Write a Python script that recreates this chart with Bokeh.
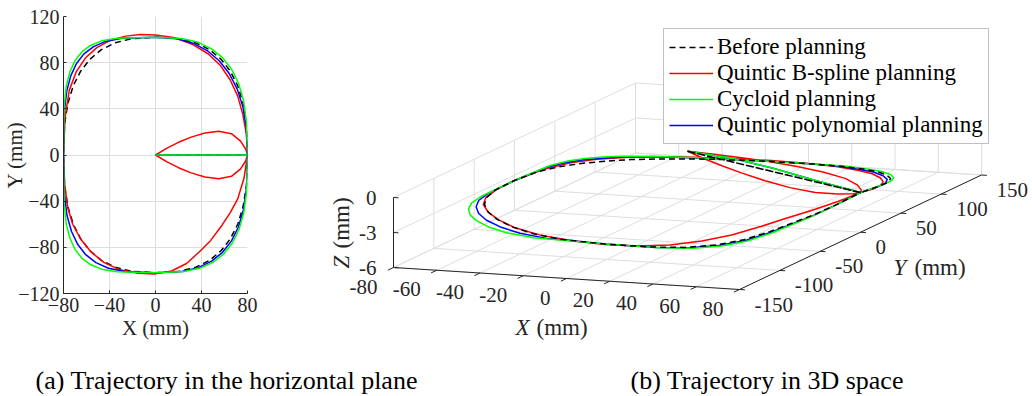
import numpy as np
from bokeh.plotting import figure
from bokeh.models import Range1d, FixedTicker, Legend, LegendItem
from bokeh.layouts import row, column
from bokeh.embed import file_html
from bokeh.resources import INLINE
from bokeh.core.properties import value

FONT = "Liberation Serif"
AX = "#262626"
GRID = "#dedede"

# ---------------- data ----------------
SERIES = ["Before planning", "Quintic B-spline planning", "Cycloid planning",
          "Quintic polynomial planning"]
COLORS = ["#000000", "#ff0000", "#00ff00", "#0000ff"]
CAPTIONS = ["(a) Trajectory in the horizontal plane", "(b) Trajectory in 3D space"]

X_TICKS_2D = [-80, -40, 0, 40, 80]
Y_TICKS_2D = [-120, -80, -40, 0, 40, 80, 120]
X_TICKS_3D = [-80, -60, -40, -20, 0, 20, 40, 60, 80]
Y_TICKS_3D = [-150, -100, -50, 0, 50, 100, 150]
Z_TICKS_3D = [-6, -3, 0]

# straight move from the origin to (80, 0)
LINE_X = [0, 20, 40, 60, 80]
LINE_Y = [0, 0, 0, 0, 0]
LINE_Z = [0, -0.65, -1.3, -1.95, -2.6]
# the planned straight moves descend along a smooth profile
LINE_Z_PLANNED = [0, -0.35, -1.0, -1.85, -2.6]

# B-spline teardrop: out (upper lobe) and back (lower lobe)
BSPLINE_OUT_X = [0, 10, 20, 31, 43, 55, 66, 74, 78.5, 80]
BSPLINE_OUT_Y = [0, 6, 11, 15.5, 19, 20.5, 18.5, 12, 5, 0]
BSPLINE_OUT_Z = [0, -0.33, -0.65, -1.0, -1.4, -1.8, -2.15, -2.4, -2.55, -2.6]
BSPLINE_BACK_X = [80, 78.5, 74, 66, 55, 43, 31, 20, 10, 0]
BSPLINE_BACK_Y = [0, -5, -12, -18.5, -20.5, -19, -15.5, -11, -6, 0]
BSPLINE_BACK_Z = [-2.6, -2.55, -2.4, -2.15, -1.8, -1.4, -1.0, -0.65, -0.33, 0]

# closed loops (37 stations, counter-clockwise from (80, 0))
BEFORE_LOOP_X = [80, 79.1, 76.2, 71.6, 65.1, 57.0, 47.0, 35.0, 20.8, 0,
                 -20.8, -35.0, -47.0, -57.0, -65.1, -71.6, -76.2, -79.1, -80,
                 -79.1, -76.2, -71.6, -65.1, -57.0, -47.0, -35.0, -20.8, 0,
                 20.8, 35.0, 47.0, 57.0, 65.1, 71.6, 76.2, 79.1, 80]
BEFORE_LOOP_Y = [0, 26.5, 44.7, 59.8, 72.6, 83.0, 91.3, 97.2, 100.8, 102,
                 100.8, 97.2, 91.3, 83.0, 72.6, 59.8, 44.7, 26.5, 0,
                 -26.5, -44.7, -59.8, -72.6, -83.0, -91.3, -97.2, -100.8, -102,
                 -100.8, -97.2, -91.3, -83.0, -72.6, -59.8, -44.7, -26.5, 0]

BSPLINE_LOOP_X = [80, 79, 76, 71.5, 65, 56.5, 46, 33, 17, 0,
                  -13, -26, -39, -51, -61, -69, -75, -78.7, -80,
                  -79, -76.5, -72, -65, -56, -45, -31, -15, 0,
                  14, 27, 38, 48, 57, 65, 71.5, 77, 80]
BSPLINE_LOOP_Y = [0, 18, 35, 51, 65, 77.5, 87.5, 95.5, 101.5, 104,
                  104.5, 103, 99.5, 93, 84, 72, 56, 32, 0,
                  -25, -45, -60, -73, -84, -93, -99.5, -102.5, -103,
                  -100.5, -94, -84, -74, -62, -50, -38, -20, 0]

CYCLOID_LOOP_X = [80, 79.1, 76.5, 72.2, 66.1, 58.3, 48.8, 37.2, 22.9, 0,
                  -33.3, -46.8, -56.6, -64.1, -70.0, -74.4, -77.6, -79.4, -80,
                  -79.4, -77.6, -74.4, -70.0, -64.1, -56.6, -46.8, -33.3, 0,
                  24.9, 39.1, 50.4, 59.6, 67.0, 72.7, 76.8, 79.2, 80]
CYCLOID_LOOP_Y = [0, 29.2, 47.4, 62.2, 74.4, 84.3, 92.0, 97.6, 100.9, 102,
                  101.2, 98.9, 94.9, 89.3, 81.8, 72.1, 59.7, 42.5, 0,
                  -42.5, -59.7, -72.1, -81.8, -89.3, -94.9, -98.9, -101.2, -102,
                  -101.0, -97.9, -92.7, -85.4, -76.0, -64.3, -49.9, -31.7, 0]

POLY_LOOP_X = [80, 79.0, 76.0, 71.0, 64.1, 55.4, 44.9, 32.7, 18.6, 0,
               -29.4, -43.4, -53.8, -62.2, -68.7, -73.7, -77.2, -79.3, -80,
               -79.2, -77.0, -73.1, -67.7, -60.7, -51.8, -40.9, -26.8, 0,
               22.9, 37.2, 48.8, 58.3, 66.1, 72.2, 76.5, 79.1, 80]
POLY_LOOP_Y = [0, 23.7, 41.7, 57.3, 70.6, 81.7, 90.5, 96.9, 100.7, 102,
               101.1, 98.4, 93.9, 87.6, 79.3, 68.6, 55.3, 37.5, 0,
               -34.2, -52.2, -66.1, -77.4, -86.4, -93.2, -98.1, -101.0, -102,
               -100.9, -97.6, -92.0, -84.3, -74.4, -62.2, -47.4, -29.2, 0]

# height of the loop at each of the 37 stations (read from the 3D view)
LOOP_Z = [-2.6, -2.9, -3.2, -3.45, -3.65, -3.8, -3.95, -4.05, -4.15, -4.2,
          -4.25, -4.25, -4.2, -4.1, -4.0, -3.85, -3.7, -3.55, -3.45,
          -3.4, -3.4, -3.45, -3.6, -3.8, -4.05, -4.3, -4.5, -4.62,
          -4.67, -4.65, -4.5, -4.2, -3.75, -3.3, -3.0, -2.75, -2.6]

X3_LIM = (-80, 80)
Y3_LIM = (-150, 150)
Z3_LIM = (-6, 0)

# --------------- helpers ---------------
def full_path(ox, oy, oz, lx, ly, lz, bx, by, bz):
    xs = list(ox) + list(lx[1:]) + list(bx[1:])
    ys = list(oy) + list(ly[1:]) + list(by[1:])
    zs = list(oz) + list(lz[1:]) + list(bz[1:])
    return np.array(xs, float), np.array(ys, float), np.array(zs, float)

def straight(lx, ly, lz):
    return full_path(LINE_X, LINE_Y, lz, lx, ly, LOOP_Z,
                     LINE_X[::-1], LINE_Y[::-1], lz[::-1])

PATHS = [
    straight(BEFORE_LOOP_X, BEFORE_LOOP_Y, LINE_Z),
    full_path(BSPLINE_OUT_X, BSPLINE_OUT_Y, BSPLINE_OUT_Z, BSPLINE_LOOP_X, BSPLINE_LOOP_Y,
              LOOP_Z, BSPLINE_BACK_X, BSPLINE_BACK_Y, BSPLINE_BACK_Z),
    straight(CYCLOID_LOOP_X, CYCLOID_LOOP_Y, LINE_Z_PLANNED),
    straight(POLY_LOOP_X, POLY_LOOP_Y, LINE_Z_PLANNED),
]
ORDER_2D = [0, 1, 3, 2]
ORDER_3D = [1, 3, 2, 0]

# orthographic projection of the 3D box onto the page
BOX_O = (393.0, 267.0)
BOX_EX = (346.0, 22.0)
BOX_EY = (242.0, -114.5)
BOX_EZ = (0.0, -70.0)

def proj(xs, ys, zs):
    u = (np.asarray(xs, float) - X3_LIM[0]) / (X3_LIM[1] - X3_LIM[0])
    v = (np.asarray(ys, float) - Y3_LIM[0]) / (Y3_LIM[1] - Y3_LIM[0])
    w = (np.asarray(zs, float) - Z3_LIM[0]) / (Z3_LIM[1] - Z3_LIM[0])
    sx = BOX_O[0] + u * BOX_EX[0] + v * BOX_EY[0] + w * BOX_EZ[0]
    sy = BOX_O[1] + u * BOX_EX[1] + v * BOX_EY[1] + w * BOX_EZ[1]
    return sx, sy

def fmt(v):
    return str(int(v))

TOP_H = 345
W1 = 300
W_ALL = 1032
CAP_H = 49

# --------------- (a) 2D plot ---------------
p1 = figure(width=W1, height=TOP_H, x_range=Range1d(-80, 80), y_range=Range1d(-120, 120),
            toolbar_location=None, output_backend="svg", frame_align=False,
            min_border_left=62, min_border_right=53, min_border_top=16,
            min_border_bottom=TOP_H - 293)
p1.outline_line_color = None
p1.xaxis.ticker = FixedTicker(ticks=X_TICKS_2D)
p1.yaxis.ticker = FixedTicker(ticks=Y_TICKS_2D)
for ax in (p1.xaxis[0], p1.yaxis[0]):
    ax.axis_line_color = AX
    ax.major_tick_line_color = AX
    ax.major_tick_in = 3
    ax.major_tick_out = 0
    ax.minor_tick_line_color = None
    ax.major_label_text_font = FONT
    ax.major_label_text_font_size = "20px"
    ax.major_label_text_color = AX
    ax.axis_label_text_font = FONT
    ax.axis_label_text_font_size = "21px"
    ax.axis_label_text_font_style = "normal"
    ax.axis_label_text_color = AX
p1.xaxis.axis_label = "X (mm)"
p1.yaxis.axis_label = "Y (mm)"
p1.xaxis.axis_label_standoff = 1
p1.yaxis.axis_label_standoff = -12
p1.xaxis.major_label_standoff = 4
p1.yaxis.major_label_standoff = 4
p1.xgrid.grid_line_color = GRID
p1.ygrid.grid_line_color = GRID

for i in ORDER_2D:
    xs, ys, zs = PATHS[i]
    p1.line(xs, ys, line_color=COLORS[i], line_width=1.5,
            line_dash="6 4" if i == 0 else "solid")

# --------------- (b) 3D plot ---------------
p2 = figure(width=W_ALL - W1, height=TOP_H, x_range=Range1d(W1, W_ALL), y_range=Range1d(TOP_H, 0),
            toolbar_location=None, output_backend="svg", min_border=0, frame_align=False,
            x_axis_location=None, y_axis_location=None)
p2.outline_line_color = None
p2.grid.visible = False

x0, x1 = X3_LIM
y0, y1 = Y3_LIM
z0, z1 = Z3_LIM
segs = []
for x in X_TICKS_3D:
    segs.append(((x, x), (y0, y1), (z0, z0)))
    segs.append(((x, x), (y1, y1), (z0, z1)))
for y in Y_TICKS_3D:
    segs.append(((x0, x1), (y, y), (z0, z0)))
    segs.append(((x0, x0), (y, y), (z0, z1)))
for z in Z_TICKS_3D:
    segs.append(((x0, x0), (y0, y1), (z, z)))
    segs.append(((x0, x1), (y1, y1), (z, z)))
gx, gy = [], []
for sx_, sy_, sz_ in segs:
    a, b = proj(sx_, sy_, sz_)
    gx.append(list(a)); gy.append(list(b))
p2.multi_line(gx, gy, line_color=GRID, line_width=1)

axes = [((x0, x1), (y0, y0), (z0, z0)), ((x1, x1), (y0, y1), (z0, z0)),
        ((x0, x0), (y0, y0), (z0, z1))]
for x in X_TICKS_3D:
    axes.append(((x, x), (y0, y0 - 7), (z0, z0)))
for y in Y_TICKS_3D:
    axes.append(((x1, x1 + 2.5), (y, y), (z0, z0)))
for z in Z_TICKS_3D:
    axes.append(((x0, x0 + 2.3), (y0, y0), (z, z)))
ax_x, ax_y = [], []
for sx_, sy_, sz_ in axes:
    a, b = proj(sx_, sy_, sz_)
    ax_x.append(list(a)); ax_y.append(list(b))
p2.multi_line(ax_x, ax_y, line_color=AX, line_width=1)

renderers = {}
for i in ORDER_3D:
    xs, ys, zs = PATHS[i]
    sx, sy = proj(xs, ys, zs)
    renderers[i] = p2.line(sx, sy, line_color=COLORS[i], line_width=1.5,
                           line_dash="6 4" if i == 0 else "solid")

tx, ty = proj(X_TICKS_3D, [y0] * len(X_TICKS_3D), [z0] * len(X_TICKS_3D))
p2.text(tx - 16, ty + 19, text=[fmt(v) for v in X_TICKS_3D], text_font=value(FONT),
        text_font_size="21px", text_color=AX, text_align="right", text_baseline="middle")
tx, ty = proj([x1] * len(Y_TICKS_3D), Y_TICKS_3D, [z0] * len(Y_TICKS_3D))
p2.text(tx + 15, ty + 15, text=[fmt(v) for v in Y_TICKS_3D], text_font=value(FONT),
        text_font_size="21px", text_color=AX, text_align="left", text_baseline="middle")
tx, ty = proj([x0] * len(Z_TICKS_3D), [y0] * len(Z_TICKS_3D), Z_TICKS_3D)
p2.text(tx - 17, ty, text=[fmt(v) for v in Z_TICKS_3D], text_font=value(FONT),
        text_font_size="21px", text_color=AX, text_align="right", text_baseline="middle")

p2.text([515], [327], text=["X"], text_font=value(FONT), text_font_style="italic",
        text_font_size="23px", text_color=AX, text_align="left", text_baseline="middle")
p2.text([536], [327], text=["(mm)"], text_font=value(FONT),
        text_font_size="23px", text_color=AX, text_align="left", text_baseline="middle")
p2.text([893], [267], text=["Y"], text_font=value(FONT), text_font_style="italic",
        text_font_size="23px", text_color=AX, text_align="left", text_baseline="middle")
p2.text([914], [267], text=["(mm)"], text_font=value(FONT),
        text_font_size="23px", text_color=AX, text_align="left", text_baseline="middle")
p2.text([341], [268], text=["Z"], text_font=value(FONT), text_font_style="italic",
        text_font_size="23px", text_color=AX, text_align="left", text_baseline="middle",
        angle=np.pi / 2)
p2.text([341], [248], text=["(mm)"], text_font=value(FONT),
        text_font_size="23px", text_color=AX, text_align="left", text_baseline="middle",
        angle=np.pi / 2)

legend = Legend(items=[LegendItem(label=SERIES[i], renderers=[renderers[i]]) for i in range(4)],
                location=(663 - W1, TOP_H - 144), margin=0, padding=5, spacing=0,
                glyph_width=44, glyph_height=20, label_standoff=4,
                label_text_font=FONT, label_text_font_size="23px", label_text_color="#000000",
                border_line_color="#808080", border_line_width=1,
                background_fill_color="white", background_fill_alpha=1.0)
p2.add_layout(legend)

# --------------- captions ---------------
p3 = figure(width=W_ALL, height=CAP_H, x_range=Range1d(0, W_ALL),
            y_range=Range1d(TOP_H + CAP_H, TOP_H), frame_align=False,
            toolbar_location=None, output_backend="svg", min_border=0,
            x_axis_location=None, y_axis_location=None)
p3.outline_line_color = None
p3.grid.visible = False
p3.text([35, 630], [380, 380], text=CAPTIONS, text_font=value(FONT),
        text_font_size="26px", text_color="#000000", text_align="left",
        text_baseline="alphabetic")

layout = column(row(p1, p2), p3)
open("out.html", "w").write(file_html(layout, INLINE))
